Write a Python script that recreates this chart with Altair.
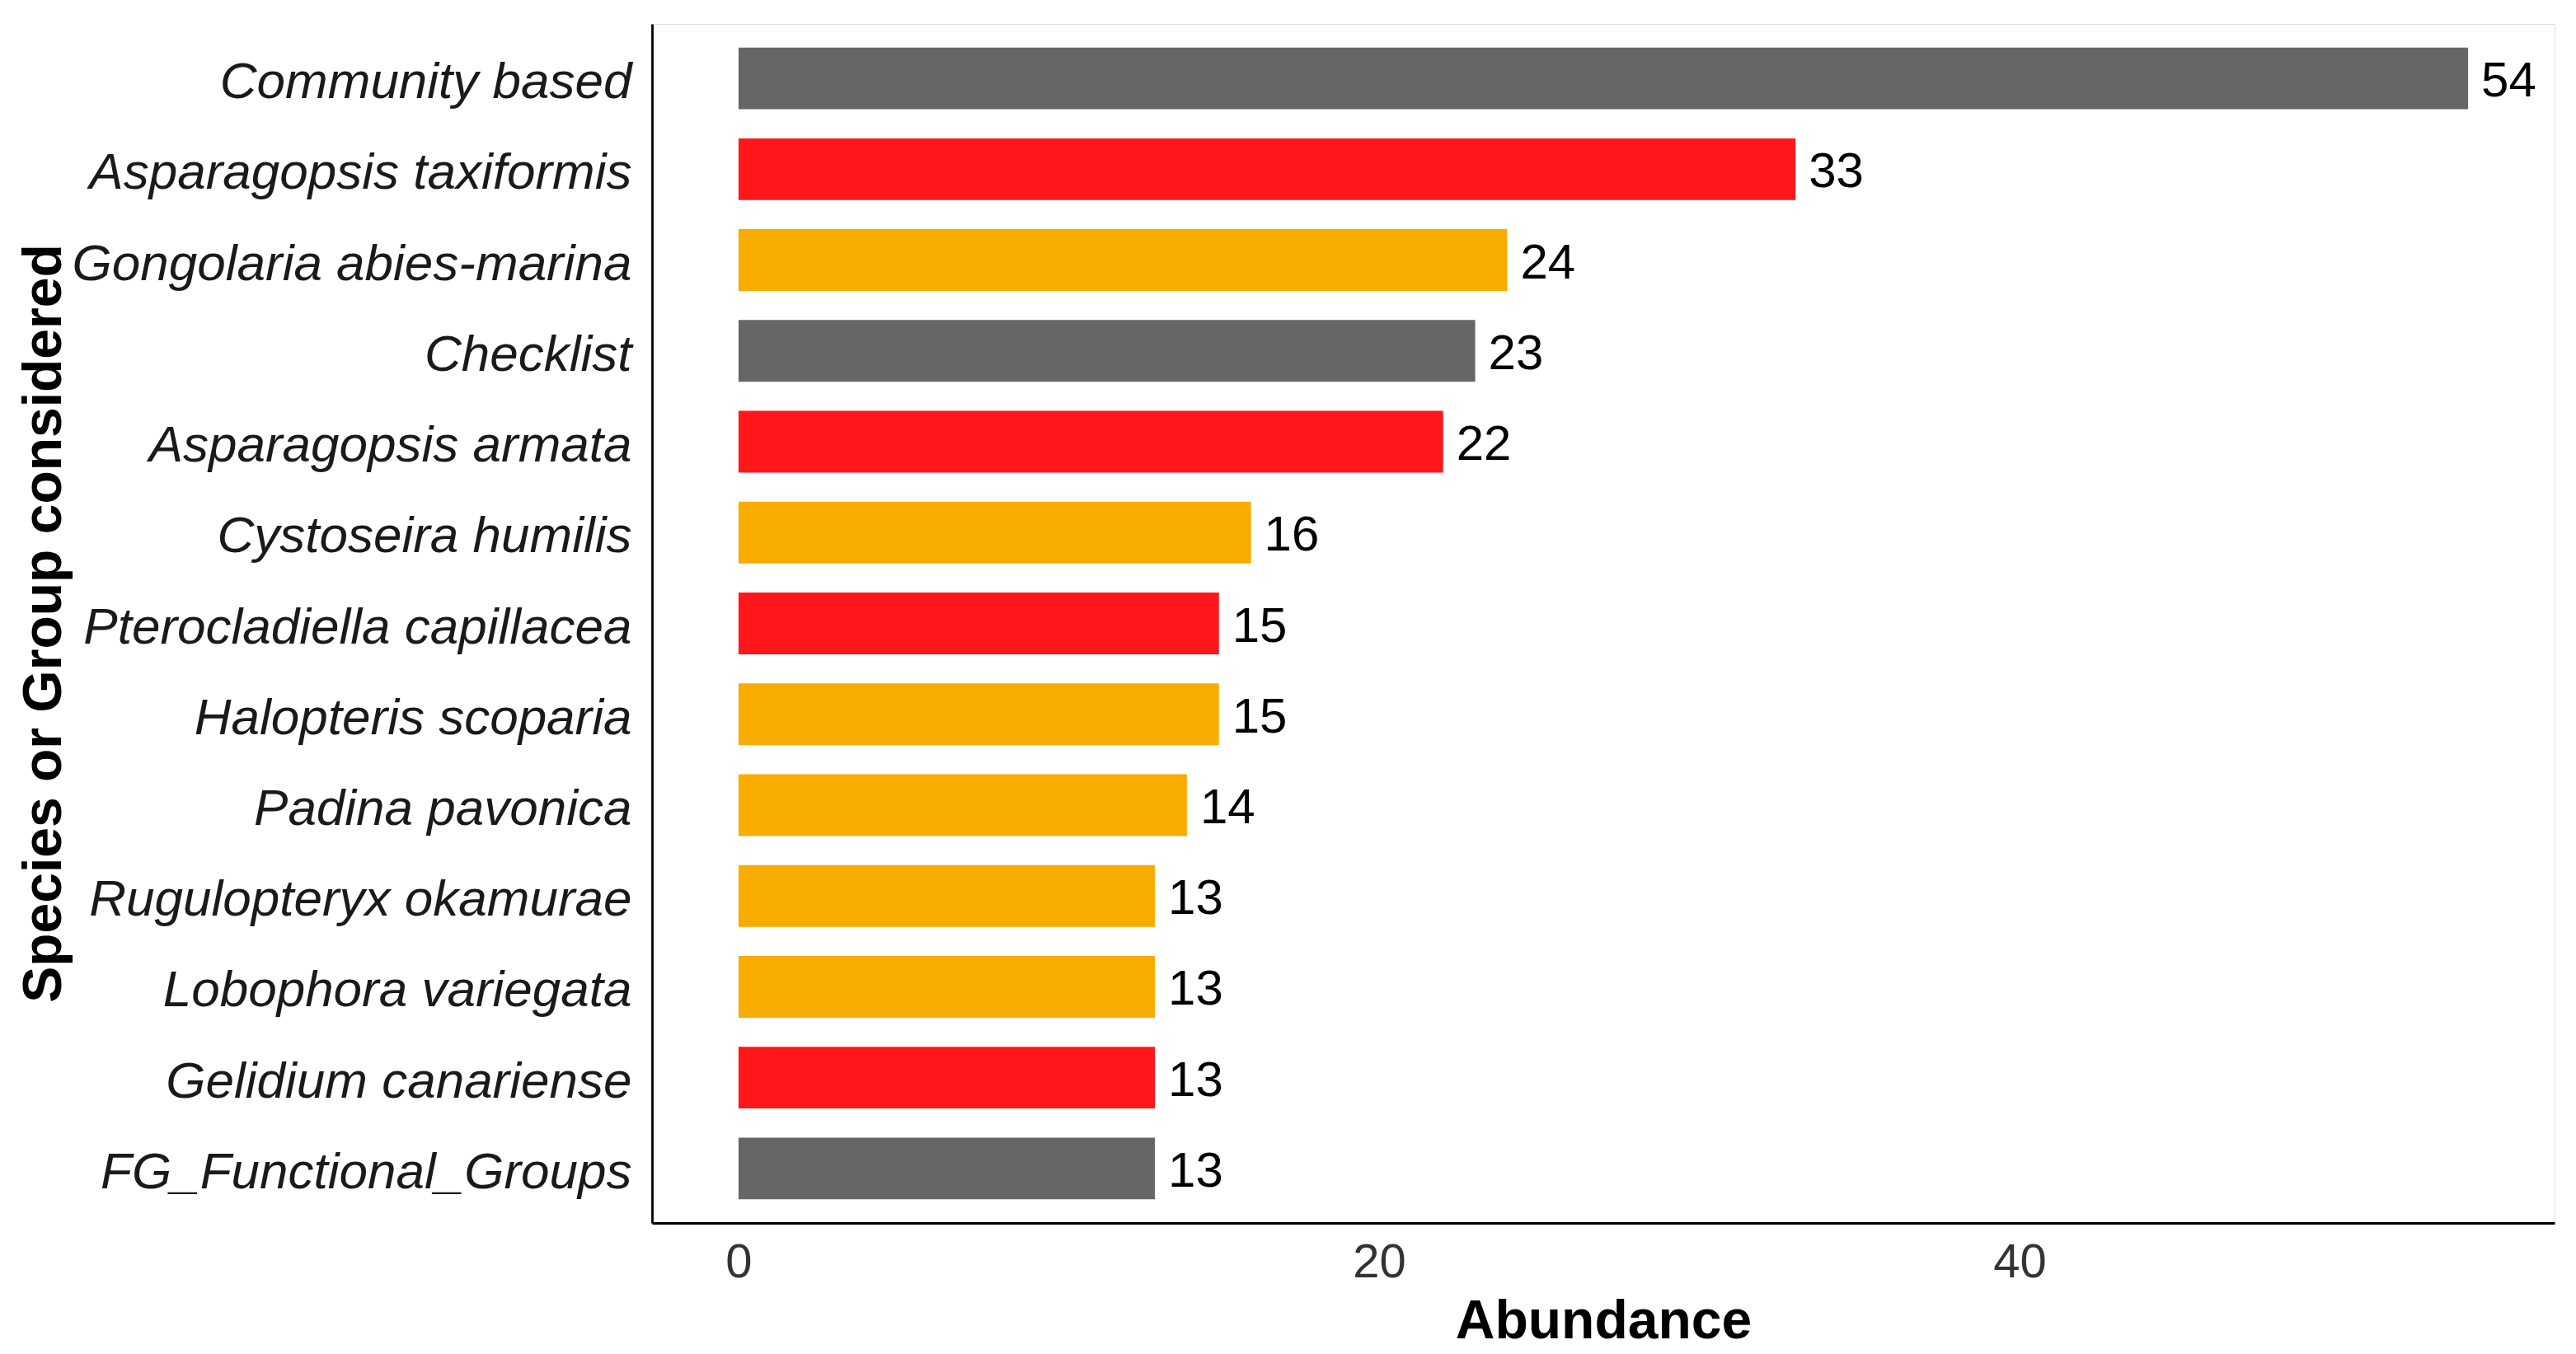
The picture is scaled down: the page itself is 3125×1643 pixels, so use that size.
import altair as alt
import pandas as pd

species = [
    "Community based", "Asparagopsis taxiformis", "Gongolaria abies-marina",
    "Checklist", "Asparagopsis armata", "Cystoseira humilis",
    "Pterocladiella capillacea", "Halopteris scoparia", "Padina pavonica",
    "Rugulopteryx okamurae", "Lobophora variegata", "Gelidium canariense",
    "FG_Functional_Groups",
]
abundance = [54, 33, 24, 23, 22, 16, 15, 15, 14, 13, 13, 13, 13]
group = ["Other", "Red", "Brown", "Other", "Red", "Brown", "Red", "Brown",
         "Brown", "Brown", "Brown", "Red", "Other"]

group_names = ["Other", "Red", "Brown"]
group_colors = ["#666666", "#FF171C", "#F8AC00"]

df = pd.DataFrame({"species": species, "abundance": abundance, "group": group})

FONT = "Liberation Sans"

y_enc = alt.Y(
    "species:N",
    sort=species,
    scale=alt.Scale(paddingInner=0.32, paddingOuter=0.26),
    axis=alt.Axis(
        title="Species or Group considered",
        labelFont=FONT, labelFontSize=62, labelFontStyle="italic",
        labelColor="#1a1a1a", labelPadding=25, labelOffset=5,
        ticks=False, tickSize=0,
        domainColor="black", domainWidth=2.8,
        titleFont=FONT, titleFontSize=66, titleFontWeight="bold",
        titleColor="black", titleAngle=270, titleBaseline="alphabetic",
        titleAlign="center", titleX=-718, titleY=727,
        labelLimit=2000,
    ),
)

x_enc = alt.X(
    "abundance:Q",
    scale=alt.Scale(domain=[-2.7, 56.7], nice=False, zero=False),
    axis=alt.Axis(
        title="Abundance", values=[0, 20, 40], grid=False,
        labelFont=FONT, labelFontSize=58, labelColor="#333333",
        labelPadding=19, ticks=False, tickSize=0,
        domainColor="black", domainWidth=2.8,
        titleFont=FONT, titleFontSize=66, titleFontWeight="bold",
        titleColor="black", titleBaseline="alphabetic",
        titleY=139, titleX=1154,
    ),
)

bars = alt.Chart(df).mark_bar().encode(
    x=x_enc,
    x2=alt.datum(0),
    y=y_enc,
    color=alt.Color("group:N",
                    scale=alt.Scale(domain=group_names, range=group_colors),
                    legend=None),
)

labels = alt.Chart(df).mark_text(
    align="left", baseline="middle", dx=16, dy=4, fontSize=60, font=FONT,
    color="black",
).encode(
    x=alt.X("abundance:Q"),
    y=alt.Y("species:N", sort=species),
    text="abundance:Q",
)

chart = (bars + labels).properties(
    width=2308, height=1455,
    autosize=alt.AutoSizeParams(type="none"),
    padding={"left": 783, "top": 21, "right": 14, "bottom": 156},
).configure_view(stroke=None).configure(background="white")

chart.save("out.html", embed_options={"renderer": "svg", "actions": False})
